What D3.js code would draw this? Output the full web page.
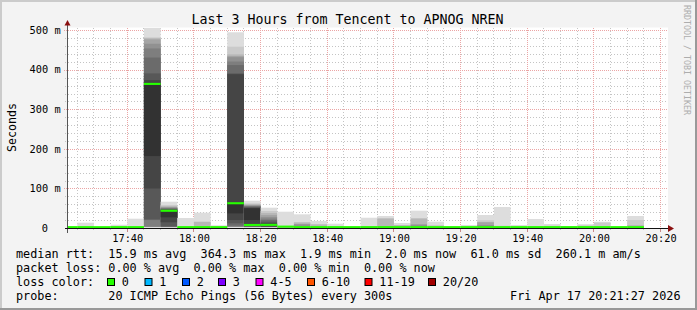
<!DOCTYPE html>
<html><head><meta charset="utf-8">
<script src="https://cdn.jsdelivr.net/npm/d3@7"></script>
<style>
body{margin:0;background:#f3f3f3}
svg{display:block}
text{font-family:"DejaVu Sans Mono",monospace;fill:#000}
</style>
</head><body>
<svg id="chart" width="697" height="310"></svg>
<script>
// ---------- data ----------
const intervalStarts = ["17:20","17:25","17:30","17:35","17:40","17:45","17:50","17:55","18:00","18:05",
  "18:10","18:15","18:20","18:25","18:30","18:35","18:40","18:45","18:50","18:55",
  "19:00","19:05","19:10","19:15","19:20","19:25","19:30","19:35","19:40","19:45",
  "19:50","19:55","20:00","20:05","20:10"];
const medianMs = [2.0,2.0,1.9,2.0,2.0,364.3,43.5,2.0,2.0,2.0,
  62.5,7.5,7.8,3.3,2.0,2.0,2.0,2.0,2.0,2.0,
  2.0,2.0,2.0,2.0,2.0,2.0,2.0,2.0,2.0,2.0,
  2.0,2.0,2.0,2.0,2.0];
// 20 sorted ping round-trip times (ms) per 5 minute step
const pingsMs = [
  [1.9,1.9,1.9,2.0,2.0,2.0,2.0,2.0,2.0,2.0,2.0,2.0,2.0,2.0,2.1,2.1,2.1,2.2,2.2,2.4],
  [1.9,1.9,2.0,2.0,2.0,2.0,2.0,2.0,2.0,2.0,2.0,2.0,2.0,2.1,2.1,2.1,2.2,2.3,2.6,13.4],
  [1.9,1.9,1.9,2.0,2.0,2.0,2.0,2.0,2.0,2.0,2.0,2.0,2.0,2.0,2.1,2.1,2.1,2.2,2.3,2.5],
  [1.9,1.9,2.0,2.0,2.0,2.0,2.0,2.0,2.0,2.0,2.0,2.0,2.0,2.1,2.1,2.2,2.3,2.6,4.0,8.3],
  [1.9,2.0,2.0,2.0,2.0,2.0,2.0,2.0,2.0,2.0,2.0,2.0,2.1,2.1,2.1,2.2,2.3,2.5,3.0,23.5],
  [1.9,2.0,2.1,2.3,2.5,3.3,20,22,100,182,365,374,391,431,454,466,477,480,482,505.8],
  [1.9,2.0,2.1,2.2,2.3,2.5,3.0,4.0,14.4,27,44.5,46,47.5,49,50.5,52,53.5,55,58,66.5],
  [1.9,1.9,2.0,2.0,2.0,2.0,2.0,2.0,2.0,2.0,2.0,2.0,2.1,2.1,2.1,2.2,2.3,2.5,3.0,25.3],
  [1.9,2.0,2.0,2.0,2.0,2.0,2.0,2.0,2.0,2.0,2.0,2.1,2.1,2.1,2.2,2.4,3.0,15.5,16.0,38.7],
  [1.9,1.9,2.0,2.0,2.0,2.0,2.0,2.0,2.0,2.0,2.0,2.0,2.0,2.1,2.1,2.1,2.2,2.3,2.6,6.8],
  [1.9,2.0,2.2,2.4,2.8,3.5,6.0,11.9,20.2,37,62.5,389,391,412,421,432,435,439,458.5,495],
  [1.9,2.0,2.1,2.2,2.4,2.6,3.0,4.0,7.0,20.2,49.8,50.3,53,54.5,55.6,57,58.5,60,62.5,69],
  [1.9,2.0,2.1,2.2,2.3,2.4,2.6,3.0,4.0,5.5,9.0,12,16,20.2,24,28,33,38,43,51.3],
  [1.9,1.9,2.0,2.0,2.0,2.0,2.0,2.0,2.0,2.0,2.0,2.1,2.1,2.1,2.2,2.3,2.6,3.5,5.0,41.2],
  [1.9,2.0,2.0,2.0,2.0,2.0,2.0,2.0,2.0,2.0,2.1,2.1,2.2,2.5,4.0,9.0,10,14,14.4,34.6],
  [1.9,1.9,2.0,2.0,2.0,2.0,2.0,2.0,2.0,2.0,2.0,2.1,2.1,2.1,2.2,2.4,3.0,9.0,9.4,17.7],
  [1.9,1.9,2.0,2.0,2.0,2.0,2.0,2.0,2.0,2.0,2.0,2.0,2.1,2.1,2.1,2.2,2.3,2.5,3.0,10.9],
  [1.9,1.9,1.9,2.0,2.0,2.0,2.0,2.0,2.0,2.0,2.0,2.0,2.0,2.0,2.1,2.1,2.1,2.2,2.3,2.5],
  [1.9,1.9,2.0,2.0,2.0,2.0,2.0,2.0,2.0,2.0,2.0,2.0,2.1,2.1,2.1,2.2,2.4,3.0,5.0,26],
  [1.9,2.0,2.0,2.0,2.0,2.0,2.0,2.0,2.0,2.0,2.0,2.1,2.1,2.1,2.2,2.4,5.0,24,24.5,30.3],
  [1.9,1.9,2.0,2.0,2.0,2.0,2.0,2.0,2.0,2.0,2.0,2.1,2.1,2.1,2.2,2.4,3.0,7.4,7.6,12.6],
  [1.9,2.0,2.0,2.0,2.0,2.0,2.0,2.0,2.0,2.0,2.1,2.1,2.1,2.3,3.0,8.5,9.0,24,24.5,43.8],
  [1.9,1.9,2.0,2.0,2.0,2.0,2.0,2.0,2.0,2.0,2.0,2.0,2.1,2.1,2.1,2.2,2.4,3.0,7.6,15.9],
  [1.9,1.9,1.9,2.0,2.0,2.0,2.0,2.0,2.0,2.0,2.0,2.0,2.0,2.0,2.1,2.1,2.1,2.2,2.3,2.5],
  [1.9,1.9,2.0,2.0,2.0,2.0,2.0,2.0,2.0,2.0,2.0,2.0,2.0,2.1,2.1,2.1,2.2,2.3,2.6,7.6],
  [1.9,2.0,2.0,2.0,2.0,2.0,2.0,2.0,2.0,2.0,2.1,2.1,2.2,3.0,3.2,7.6,14.4,15,19.5,32.9],
  [1.9,1.9,2.0,2.0,2.0,2.0,2.0,2.0,2.0,2.0,2.0,2.1,2.1,2.1,2.2,2.4,2.7,3.0,5.8,53.1],
  [1.9,1.9,2.0,2.0,2.0,2.0,2.0,2.0,2.0,2.0,2.0,2.0,2.0,2.1,2.1,2.1,2.2,2.3,2.6,7.6],
  [1.9,1.9,2.0,2.0,2.0,2.0,2.0,2.0,2.0,2.0,2.0,2.0,2.1,2.1,2.1,2.2,2.3,2.5,3.0,22.8],
  [1.9,1.9,2.0,2.0,2.0,2.0,2.0,2.0,2.0,2.0,2.0,2.0,2.1,2.1,2.1,2.2,2.4,3.0,5.8,10.1],
  [1.9,1.9,2.0,2.0,2.0,2.0,2.0,2.0,2.0,2.0,2.0,2.0,2.0,2.1,2.1,2.1,2.2,2.3,2.6,4.6],
  [1.9,1.9,2.0,2.0,2.0,2.0,2.0,2.0,2.0,2.0,2.0,2.0,2.1,2.1,2.1,2.2,2.4,3.0,6.8,9.6],
  [1.9,1.9,2.0,2.0,2.0,2.0,2.0,2.0,2.0,2.0,2.0,2.0,2.1,2.1,2.1,2.2,2.4,3.0,13.5,15.7],
  [1.9,1.9,1.9,2.0,2.0,2.0,2.0,2.0,2.0,2.0,2.0,2.0,2.0,2.0,2.1,2.1,2.1,2.2,2.3,2.5],
  [1.9,2.0,2.0,2.0,2.0,2.0,2.0,2.0,2.0,2.0,2.0,2.1,2.1,2.1,2.2,2.4,3.0,7.6,20.2,30.3]
];
const yTickValues = [0,100,200,300,400,500];           // ms
const yMinorStep = 20;                                 // ms
const xTickLabels = ["17:40","18:00","18:20","18:40","19:00","19:20","19:40","20:00","20:20"];
const graphStart = "17:21:55", graphEnd = "20:21:55";
const lossLabels = ["0","1","2","3","4-5","6-10","11-19","20/20"];
const lossColors = ["#26ff00","#00b8ff","#0059ff","#7e00ff","#ff00ff","#ff5500","#ff0000","#a10000"];
const titleText = "Last 3 Hours from Tencent to APNOG NREN";
const rttLegend = ["median rtt:","15.9 ms avg","364.3 ms max","1.9 ms min","2.0 ms now","61.0 ms sd","260.1 m am/s"];
const lossLegend = ["packet loss:","0.00 % avg","0.00 % max","0.00 % min","0.00 % now"];
const probeText = "20 ICMP Echo Pings (56 Bytes) every 300s";
const stampText = "Fri Apr 17 20:21:27 2026";

// ---------- layout ----------
const svg = d3.select("#chart");
const W = 697, H = 310;
const L = 67, R = 667, T = 28, B = 228;
const parseT = d3.timeParse("%H:%M:%S");
const pt = s => parseT(s.length === 5 ? s + ":00" : s);

const x = d3.scaleTime().domain([pt(graphStart), pt(graphEnd)]).range([L, R]);
const y = d3.scaleLinear().domain([0, d3.max(pingsMs.flat())]).range([B, T]);

// background & frame
svg.append("rect").attr("width", W).attr("height", H).attr("fill", "#f3f3f3");
svg.append("rect").attr("x",0).attr("y",0).attr("width",W).attr("height",2).attr("fill","#cbcbcb");
svg.append("rect").attr("x",0).attr("y",0).attr("width",2).attr("height",H).attr("fill","#cbcbcb");
svg.append("rect").attr("x",0).attr("y",H-2).attr("width",W).attr("height",2).attr("fill","#999");
svg.append("rect").attr("x",W-2).attr("y",0).attr("width",2).attr("height",H).attr("fill","#999");

// canvas
svg.append("rect").attr("x", L).attr("y", T - 0.5).attr("width", R - L + 1).attr("height", B - T + 0.5).attr("fill", "#fff");

// grid
const grid = svg.append("g");
const minorCol = "#c4c4c4", majorCol = "#eba5a5";
const yMinor = d3.range(yMinorStep, y.domain()[1], yMinorStep).filter(v => v % 100 !== 0);
yMinor.forEach(v => {
  const yy = Math.round(y(v)) + 0.5;
  grid.append("line").attr("x1", L - 2).attr("x2", R + 1).attr("y1", yy).attr("y2", yy)
    .attr("stroke", minorCol).attr("stroke-dasharray", "1,2");
});
yTickValues.filter(v => v > 0).forEach(v => {
  const yy = Math.round(y(v)) + 0.5;
  grid.append("line").attr("x1", L - 3).attr("x2", R + 1).attr("y1", yy).attr("y2", yy)
    .attr("stroke", majorCol).attr("stroke-dasharray", "1,1");
});
const minorTimes = d3.timeMinute.every(5).range(x.domain()[0], x.domain()[1]);
const majorSet = new Set(xTickLabels);
const fmtHM = d3.timeFormat("%H:%M");
minorTimes.filter(t => !majorSet.has(fmtHM(t))).forEach(t => {
  const xx = Math.floor(x(t)) + 0.5;
  grid.append("line").attr("x1", xx).attr("x2", xx).attr("y1", T).attr("y2", B + 2)
    .attr("stroke", minorCol).attr("stroke-dasharray", "1,2");
});
xTickLabels.forEach(s => {
  const xx = Math.floor(x(pt(s))) + 0.5;
  grid.append("line").attr("x1", xx).attr("x2", xx).attr("y1", T).attr("y2", B)
    .attr("stroke", majorCol).attr("stroke-dasharray", "1,1");
  grid.append("line").attr("x1", xx).attr("x2", xx).attr("y1", B).attr("y2", B + 4)
    .attr("stroke", "#c98a8a");
});

// clip
svg.append("clipPath").attr("id", "plotclip").append("rect")
  .attr("x", L).attr("y", T - 1).attr("width", R - L + 1).attr("height", B - T + 1);
const plot = svg.append("g").attr("clip-path", "url(#plotclip)");

// smoke (pairs of sorted pings, darker towards the middle)
const half = 10;
const greyOf = k => { const g = Math.round(190 / half * (half - (k + 1))) + 50; return d3.rgb(g, g, g).toString(); };
intervalStarts.forEach((s, i) => {
  const t0 = pt(s), t1 = d3.timeMinute.offset(t0, 5);
  const p = pingsMs[i];
  for (let k = 0; k < half; k++) {
    const lo = p[k], hi = p[p.length - 1 - k];
    plot.append("rect")
      .attr("x", x(t0)).attr("width", x(t1) - x(t0))
      .attr("y", y(hi)).attr("height", Math.max(0, y(lo) - y(hi)))
      .attr("fill", greyOf(k));
  }
});
// median (colored by loss: 0)
intervalStarts.forEach((s, i) => {
  const t0 = pt(s), t1 = d3.timeMinute.offset(t0, 5);
  plot.append("rect")
    .attr("x", x(t0)).attr("width", x(t1) - x(t0))
    .attr("y", y(medianMs[i]) - 1.1).attr("height", 2.1)
    .attr("fill", lossColors[0]);
});

// axes
svg.append("line").attr("x1", L + 0.5).attr("x2", L + 0.5).attr("y1", B + 5).attr("y2", T - 3)
  .attr("stroke", "#555");
svg.append("line").attr("x1", L - 2).attr("x2", R + 2).attr("y1", B + 0.5).attr("y2", B + 0.5)
  .attr("stroke", "#111");
svg.append("path").attr("d", `M${R+1},${B-3} L${R+7},${B+0.5} L${R+1},${B+4} Z`).attr("fill", "#8b1010");
svg.append("path").attr("d", `M${L-2.5},${T-2.5} L${L+3.5},${T-2.5} L${L+0.5},${T-8} Z`).attr("fill", "#8b1010");

// tick labels
const yfmt = v => v === 0 ? "0" : v + " m";
yTickValues.forEach(v => {
  svg.append("text").attr("x", v === 0 ? 48 : 60.6).attr("y", y(v) + 3.6)
    .attr("text-anchor", "end").attr("font-size", "10.3px").text(yfmt(v));
});
xTickLabels.forEach(s => {
  svg.append("text").attr("x", x(pt(s)) + 0.5).attr("y", 241.5)
    .attr("text-anchor", "middle").attr("font-size", "10.3px").text(s);
});

// title & axis title & watermark
svg.append("text").attr("x", 347.5).attr("y", 23.8).attr("text-anchor", "middle")
  .attr("font-size", "13.3px").text(titleText);
svg.append("text").attr("transform", "translate(15.6,127.5) rotate(-90)").attr("text-anchor", "middle")
  .attr("font-size", "11.6px").text("Seconds");
svg.append("text").attr("transform", "translate(684.2,5) rotate(90)").attr("text-anchor", "start")
  .attr("font-size", "8.3px").style("fill", "#adadad").text("RRDTOOL / TOBI OETIKER");

// legend
const cw = 7.1, lx = 16, fs = "11.8px";
const addText = (col, yy, s) => svg.append("text").attr("x", lx + col * cw).attr("y", yy)
  .attr("font-size", fs).text(s);
[0, 13, 26, 40, 52, 64, 76].forEach((c, j) => addText(c, 258, rttLegend[j]));
[0, 13, 25, 37, 49].forEach((c, j) => addText(c, 272, lossLegend[j]));
addText(0, 286, "loss color:");
const boxX = [107.5, 145, 182.5, 218.5, 256, 307.5, 365, 428.5];
lossLabels.forEach((lab, j) => {
  svg.append("rect").attr("x", boxX[j]).attr("y", 278.5).attr("width", 7).attr("height", 7)
    .attr("fill", lossColors[j]).attr("stroke", "#000").attr("stroke-width", 1);
  svg.append("text").attr("x", boxX[j] + 14.3).attr("y", 286).attr("font-size", fs).text(lab);
});
addText(0, 300, "probe:");
addText(13, 300, probeText);
svg.append("text").attr("x", 680.5).attr("y", 300).attr("text-anchor", "end")
  .attr("font-size", fs).text(stampText);
</script>
</body></html>
